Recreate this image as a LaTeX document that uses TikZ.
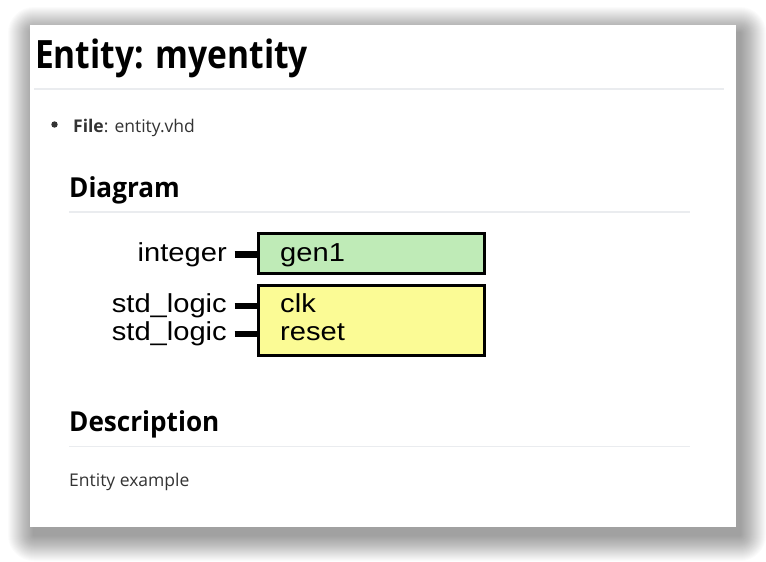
\documentclass[tikz,border=0pt]{standalone}
\usepackage{fontspec}
\setmainfont{Open Sans}
\newfontfamily\portfont{Liberation Sans}
\usetikzlibrary{positioning}
\definecolor{rulegray}{HTML}{EAECEF}
\definecolor{genfill}{HTML}{BFEBB7}
\definecolor{portfill}{HTML}{FBFB95}
\definecolor{bodytext}{HTML}{333333}
\def\stubw{6.8pt}
\def\boxw{3pt}
\def\stubup{6.5pt}

\begin{document}
\begin{tikzpicture}[x=1pt,y=-1pt]
    \tikzset{%
      txt/.style={inner sep=0pt, anchor=base west},
      head/.style={txt, xscale=0.95, font=\bfseries\fontsize{27.5}{32}\selectfont},
      hrule/.style={rulegray, line width=1.2pt},
      entbox/.style={draw=black, line width=\boxw, minimum width=226pt,
        inner sep=0pt, anchor=north west},
      portlbl/.style={inner sep=0pt, xscale=1.12,
        font=\portfont\fontsize{26}{28}\selectfont},
      portline/.style={line width=\stubw}}

    \useasboundingbox (0,0) rectangle (766,562);
    \fill[white] (0,0) rectangle (766,562);
    % soft shadow of the page
    \foreach \i in {1,...,26}
      \fill[black, opacity=0.014, rounded corners=\i pt]
        (34-\i,33-\i) rectangle (740+\i,535+\i);
    \fill[white] (30,25) rectangle (736,527);

    % page text
    \node[txt, xscale=0.86, font=\bfseries\fontsize{39}{44}\selectfont] (title) at (35,68) {Entity: myentity};
    \draw[hrule] (34,89) -- (724,89);
    \fill[bodytext] (54.5,124.5) circle (3.2);
    \node[txt, text=bodytext, font=\fontsize{17.5}{21}\selectfont] (file) at (73,132) {\textbf{File}: entity.vhd};
    \node[head] (diag) at (69,197) {Diagram};
    \draw[hrule] (69,212) -- (690,212);
    \node[head] (desc) at (69,431.5) {Description};
    \draw[hrule] (69,446.5) -- (690,446.5);
    \node[txt, text=bodytext, font=\fontsize{17.5}{21}\selectfont] (body) at (69,486.5) {Entity example};

    % entity boxes
    \node[entbox, fill=genfill, minimum height=39.5pt] (gen) at (257,232) {};
    \node[entbox, fill=portfill, minimum height=70pt] (ports) at (257,284) {};

    % names inside
    \node[portlbl, anchor=base west] (gen1) at (280,261) {gen1};
    \node[portlbl, anchor=base west] (clk) at (280,312.5) {clk};
    \node[portlbl, anchor=base west] (reset) at (280,340.5) {reset};

    % types and stubs
    \node[portlbl, anchor=base east] (tgen) at (227,261) {integer};
    \node[portlbl, anchor=base east] (tclk) at (227,312.5) {std\_logic};
    \node[portlbl, anchor=base east] (treset) at (227,340.5) {std\_logic};
    \draw[portline] ([xshift=7.5pt,yshift=\stubup]tgen.base east) -- ([yshift=\stubup]tgen.base east -| gen.west);
    \draw[portline] ([xshift=7.5pt,yshift=\stubup]tclk.base east) -- ([yshift=\stubup]tclk.base east -| ports.west);
    \draw[portline] ([xshift=7.5pt,yshift=\stubup]treset.base east) -- ([yshift=\stubup]treset.base east -| ports.west);
  \end{tikzpicture}
\end{document}
